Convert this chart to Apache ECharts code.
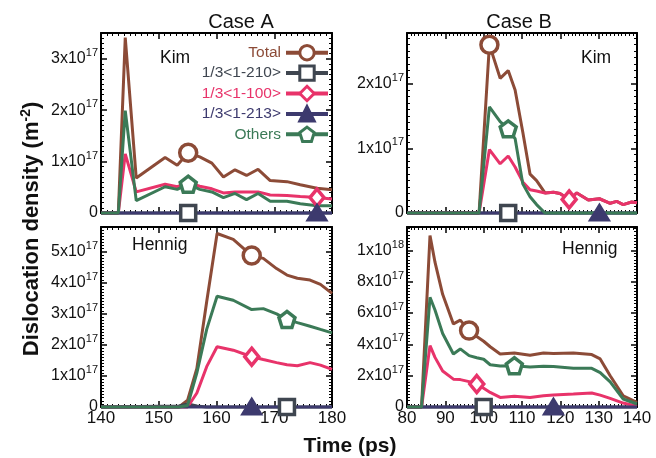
<!DOCTYPE html>
<html>
<head>
<meta charset="utf-8">
<script src="https://cdn.jsdelivr.net/npm/echarts@6/dist/echarts.min.js"></script>
<style>html,body{margin:0;padding:0;background:#fff}#c{width:656px;height:458px}</style>
</head>
<body>
<div id="c"></div>
<script>
// ---- data (densities in units of 1e17 m^-2, time in ps) ----
const seriesNames = ['Total', '1/3<1-210>', '1/3<1-100>', '1/3<1-213>', 'Others'];

// Case A, Kim
const kimA_time   = [140, 143, 144.2, 146.1, 151.1, 153.2, 155.1, 157.1, 159.2, 161.2, 163.2, 165.2, 167.2, 169.3, 172.2, 174.5, 177.4, 180];
const kimA_total  = [0, 0, 3.41, 0.68, 1.08, 0.93, 1.17, 1.09, 0.97, 0.70, 0.84, 0.73, 0.85, 0.63, 0.61, 0.55, 0.48, 0.45];
const kimA_210    = [0, 0, 0, 0, 0, 0, 0, 0, 0, 0, 0, 0, 0, 0, 0, 0, 0, 0];
const kimA_100    = [0, 0, 1.15, 0.41, 0.56, 0.51, 0.59, 0.52, 0.47, 0.39, 0.41, 0.41, 0.41, 0.35, 0.34, 0.32, 0.30, 0.27];
const kimA_213    = [0, 0, 0, 0, 0, 0, 0, 0, 0, 0, 0, 0, 0, 0, 0, 0, 0, 0];
const kimA_others = [0, 0, 1.99, 0.24, 0.51, 0.46, 0.56, 0.46, 0.41, 0.30, 0.38, 0.26, 0.38, 0.23, 0.23, 0.18, 0.14, 0.14];
const kimA_marks  = [6, 6, 16, 16, 6];

// Case B, Kim
const kimB_time   = [80, 98.8, 101.5, 104.3, 106.4, 108.2, 110.2, 112.1, 113.8, 116, 118.2, 119.9, 122.3, 124.3, 127.3, 130.2, 133, 134.7, 136.4, 138.6, 140];
const kimB_total  = [0, 0, 2.60, 2.08, 2.20, 1.90, 1.25, 0.60, 0.50, 0.31, 0.32, 0.30, 0.21, 0.31, 0.20, 0.22, 0.15, 0.18, 0.13, 0.17, 0.16];
const kimB_210    = [0, 0, 0, 0, 0, 0, 0, 0, 0, 0, 0, 0, 0, 0, 0, 0, 0, 0, 0, 0, 0];
const kimB_100    = [0, 0, 0.98, 0.76, 0.88, 0.71, 0.48, 0.36, 0.34, 0.31, 0.32, 0.30, 0.21, 0.31, 0.20, 0.22, 0.15, 0.18, 0.13, 0.17, 0.16];
const kimB_213    = [0, 0, 0, 0, 0, 0, 0, 0, 0, 0, 0, 0, 0, 0, 0, 0, 0, 0, 0, 0, 0];
const kimB_others = [0, 0, 1.64, 1.41, 1.30, 1.15, 0.45, 0.25, 0.13, 0, 0, 0, 0, 0, 0, 0, 0, 0, 0, 0, 0];
const kimB_marks  = [2, 4, 12, 15, 4];

// Case A, Hennig
const henA_time   = [140, 153.5, 155, 156.6, 158.3, 160.1, 162.9, 166.1, 168.1, 170.4, 172.2, 174, 176.2, 178, 180];
const henA_total  = [0, 0, 0.22, 1.24, 3.39, 5.59, 5.40, 4.88, 4.79, 4.46, 4.25, 4.15, 4.09, 3.95, 3.66];
const henA_210    = [0, 0.03, 0.10, 0.03, 0, 0, 0, 0, 0, 0, 0, 0, 0, 0, 0];
const henA_100    = [0, 0, 0, 0.45, 1.30, 1.94, 1.83, 1.62, 1.53, 1.43, 1.36, 1.33, 1.43, 1.35, 1.21];
const henA_213    = [0, 0, 0, 0, 0, 0, 0, 0, 0, 0, 0, 0, 0, 0, 0];
const henA_others = [0, 0, 0.05, 1.10, 2.50, 3.57, 3.44, 3.14, 3.17, 3.00, 2.82, 2.72, 2.60, 2.50, 2.39];
const henA_marks  = [7, 10, 7, 7, 10];

// Case B, Hennig
const henB_time   = [80, 83.8, 86, 87.3, 89.3, 92.1, 93.9, 96.2, 98.2, 100, 101.7, 104.3, 108, 112.1, 115.6, 118.2, 123.4, 128.2, 130.4, 133, 136.4, 140];
const henB_total  = [0, 0, 10.96, 9.25, 7.20, 5.31, 5.55, 4.88, 4.50, 4.20, 3.85, 3.39, 3.45, 3.30, 3.45, 3.42, 3.45, 3.35, 3.07, 2.00, 0.72, 0.30];
const henB_210    = [0, 0, 0, 0, 0, 0, 0, 0, 0, 0, 0, 0, 0, 0, 0, 0, 0, 0, 0, 0, 0, 0];
const henB_100    = [0, 0, 3.92, 3.17, 2.30, 1.78, 1.75, 1.62, 1.47, 1.20, 0.93, 0.61, 0.68, 0.61, 0.72, 0.77, 0.83, 0.89, 0.76, 0.55, 0.25, 0.05];
const henB_213    = [0, 0, 0, 0, 0, 0, 0, 0, 0, 0, 0, 0, 0, 0, 0, 0, 0, 0, 0, 0, 0, 0];
const henB_others = [0, 0, 7.01, 6.20, 4.70, 3.39, 3.71, 3.28, 3.15, 3.05, 2.70, 2.62, 2.64, 2.55, 2.60, 2.58, 2.47, 2.47, 2.20, 1.60, 0.51, 0.19];
const henB_marks  = [7, 9, 8, 15, 12];

// axis tick settings
const xRangeA = [140, 180], xRangeB = [80, 140], xStep = 10;
const yMaxKimA = 3.5, yMaxKimB = 2.78, yMaxHenA = 5.8, yMaxHenB = 11.5;
const yStepKimA = 1, yStepKimB = 1, yStepHenA = 1, yStepHenB = 2;

// ---- styling ----
const FONT = '"Liberation Sans", Arial, Helvetica, sans-serif';
const lineColors = ['#8c4b37', '#3f4650', '#e8336a', '#3d3a6e', '#3b7a57'];
const fillColors = ['#ffffff', '#ffffff', '#ffffff', '#3d3a6e', '#ffffff'];
const pentagon = 'path://M0,-10 L9.51,-3.09 L5.88,8.09 L-5.88,8.09 L-9.51,-3.09 Z';
const symbols = ['circle', 'rect', 'diamond', 'triangle', pentagon];
const symbolSizes = [17, 15, [14, 17], [17, 14], 16];

const panels = [
  {time: kimA_time, vals: [kimA_total, kimA_210, kimA_100, kimA_213, kimA_others], marks: kimA_marks, x: xRangeA, yMax: yMaxKimA, yStep: yStepKimA, xLabels: false,
   grid: {left: 101, top: 33, width: 231, height: 180}},
  {time: kimB_time, vals: [kimB_total, kimB_210, kimB_100, kimB_213, kimB_others], marks: kimB_marks, x: xRangeB, yMax: yMaxKimB, yStep: yStepKimB, xLabels: false,
   grid: {left: 407, top: 33, width: 230, height: 180}},
  {time: henA_time, vals: [henA_total, henA_210, henA_100, henA_213, henA_others], marks: henA_marks, x: xRangeA, yMax: yMaxHenA, yStep: yStepHenA, xLabels: true,
   grid: {left: 101, top: 227, width: 231, height: 180}},
  {time: henB_time, vals: [henB_total, henB_210, henB_100, henB_213, henB_others], marks: henB_marks, x: xRangeB, yMax: yMaxHenB, yStep: yStepHenB, xLabels: true,
   grid: {left: 407, top: 227, width: 230, height: 180}}
];

function yLabel(step) {
  return function (v) {
    const k = v / step;
    if (Math.abs(k - Math.round(k)) > 1e-6) return '';
    if (v === 0) return '{b|0}';
    if (v >= 10) return '{b|' + Math.round(v / 10) + 'x10}{s|18}';
    return '{b|' + Math.round(v) + 'x10}{s|17}';
  };
}
const richSup = {
  b: {fontSize: 16, fontFamily: FONT, color: '#111', lineHeight: 16},
  s: {fontSize: 11, fontFamily: FONT, color: '#111', lineHeight: 11, padding: [0, 0, 12, 0]}
};

const grids = [], xAxes = [], yAxes = [], series = [];
panels.forEach(function (p, pi) {
  grids.push(Object.assign({show: false}, p.grid));
  const common = {
    gridIndex: pi, type: 'value',
    axisLine: {show: true, onZero: false, lineStyle: {color: '#000', width: 2}},
    axisTick: {show: true, inside: true, length: 6, lineStyle: {color: '#000', width: 1.5}},
    minorTick: {show: true, splitNumber: 10, length: 3, lineStyle: {color: '#000', width: 1}},
    splitLine: {show: false}
  };
  xAxes.push(Object.assign({}, common, {
    position: 'bottom', min: p.x[0], max: p.x[1], interval: xStep,
    axisLabel: {show: p.xLabels, fontSize: 17, fontFamily: FONT, color: '#111', margin: 3}
  }));
  xAxes.push(Object.assign({}, common, {
    position: 'top', min: p.x[0], max: p.x[1], interval: xStep, axisLabel: {show: false}
  }));
  yAxes.push(Object.assign({}, common, {
    position: 'left', min: 0, max: p.yMax, interval: p.yStep,
    axisLabel: {show: true, formatter: yLabel(p.yStep), rich: richSup, margin: 3, showMaxLabel: false}
  }));
  yAxes.push(Object.assign({}, common, {
    position: 'right', min: 0, max: p.yMax, interval: p.yStep, axisLabel: {show: false}
  }));
  seriesNames.forEach(function (name, si) {
    const vals = p.vals[si];
    const data = p.time.map(function (t, i) {
      return i === p.marks[si] ? [t, vals[i]] : {value: [t, vals[i]], symbol: 'none'};
    });
    series.push({
      type: 'line', name: name, xAxisIndex: pi * 2, yAxisIndex: pi * 2, data: data,
      symbol: symbols[si], symbolSize: symbolSizes[si], showSymbol: true,
      clip: false,
      lineStyle: {color: lineColors[si], width: 3},
      itemStyle: {color: fillColors[si], borderColor: lineColors[si], borderWidth: 3.5},
      emphasis: {disabled: true}
    });
  });
});

const txt = function (x, y, text, size, weight, align) {
  return {type: 'text', x: x, y: y, silent: true,
    style: {text: text, fontSize: size, fontWeight: weight || 'normal', fontFamily: FONT, fill: '#111',
      align: align || 'center', textAlign: align || 'center', verticalAlign: 'middle', textVerticalAlign: 'middle'}};
};

const option = {
  animation: false,
  backgroundColor: '#fff',
  grid: grids, xAxis: xAxes, yAxis: yAxes, series: series,
  legend: {
    show: true, selectedMode: false, orient: 'vertical', align: 'right',
    right: 326, top: 44, padding: 0, itemWidth: 42, itemHeight: 18, itemGap: 3,
    textStyle: {fontSize: 15.5, fontFamily: FONT},
    lineStyle: {width: 4}, itemStyle: {borderWidth: 3},
    data: seriesNames.map(function (n, i) { return {name: n, textStyle: {color: lineColors[i]}}; })
  },
  graphic: [
    txt(241, 22, 'Case A', 20),
    txt(519, 22, 'Case B', 20),
    txt(160, 58, 'Kim', 17.5, 'normal', 'left'),
    txt(581, 58, 'Kim', 17.5, 'normal', 'left'),
    txt(132, 245, 'Hennig', 17.5, 'normal', 'left'),
    txt(562, 249, 'Hennig', 17.5, 'normal', 'left'),
    txt(350, 446, 'Time (ps)', 21, 'bold'),
    {type: 'text', x: 32, y: 229, rotation: Math.PI / 2, silent: true,
     style: {text: '{a|Dislocation density (m}{s|-2}{a|)}', align: 'center', textAlign: 'center',
       verticalAlign: 'middle', textVerticalAlign: 'middle', fill: '#111',
       rich: {a: {fontSize: 22, fontWeight: 'bold', fontFamily: FONT, fill: '#111', color: '#111', lineHeight: 22},
              s: {fontSize: 14, fontWeight: 'bold', fontFamily: FONT, fill: '#111', color: '#111', lineHeight: 14, padding: [0, 0, 12, 0]}}}}
  ]
};
const chart = echarts.init(document.getElementById('c'), null, {renderer: 'canvas'});
chart.setOption(option);
</script>
</body>
</html>
